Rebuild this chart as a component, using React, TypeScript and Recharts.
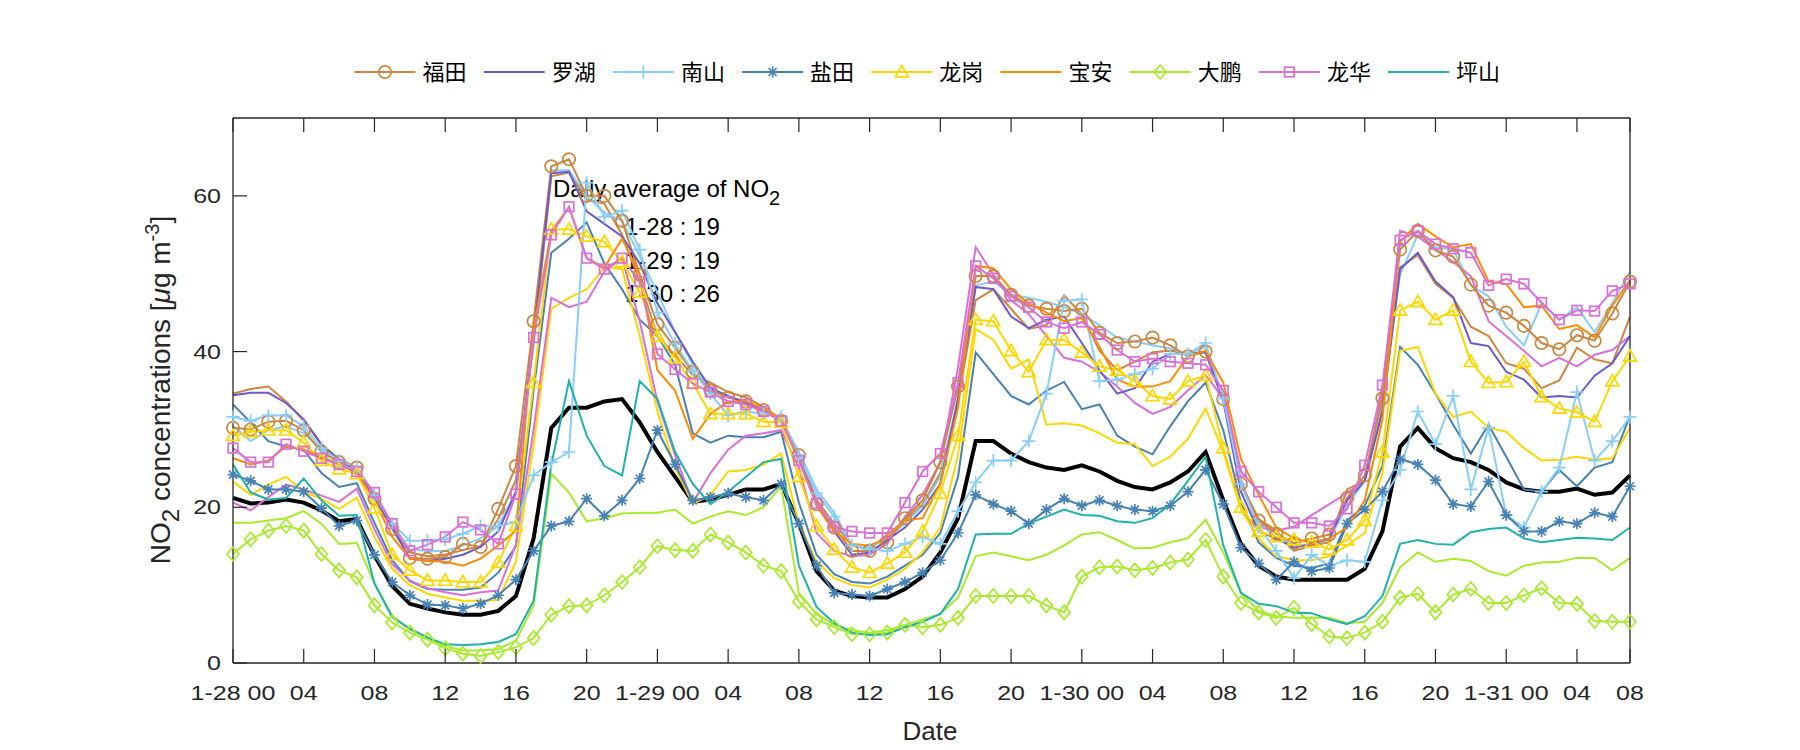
import React from 'react';
import { LineChart, Line, XAxis, YAxis } from 'recharts';

// hourly index from 1-28 00 to 1-31 07
const hours = Array.from({ length: 80 }, (_, i) => i);

const xTicks = [0, 4, 8, 12, 16, 20, 24, 28, 32, 36, 40, 44, 48, 52, 56, 60, 64, 68, 72, 76, 79];
const xTickLabels = ['1-28 00', '04', '08', '12', '16', '20', '1-29 00', '04', '08', '12', '16', '20',
  '1-30 00', '04', '08', '12', '16', '20', '1-31 00', '04', '08'];
const yTicks = [0, 20, 40, 60];

const futian = [30.2, 30.0, 31.0, 31.1, 29.9, 27.1, 25.8, 25.1, 21.1, 17.2,
  13.5, 13.4, 13.6, 15.3, 14.9, 19.8, 25.3, 43.9, 63.8, 64.7,
  60.0, 60.0, 56.8, 49.9, 43.5, 40.5, 37.4, 35.0, 34.1, 33.6,
  32.5, 31.1, 26.7, 20.4, 17.4, 14.4, 14.4, 15.5, 18.6, 20.9,
  25.8, 35.5, 49.7, 49.7, 47.3, 45.9, 45.5, 45.2, 45.5, 42.4,
  41.1, 41.3, 41.8, 40.8, 39.4, 40.0, 33.9, 23.0, 18.3, 16.6,
  15.4, 16.0, 16.5, 21.2, 24.1, 34.0, 53.1, 55.5, 53.0, 52.2,
  48.6, 45.9, 45.0, 43.3, 41.1, 40.3, 42.1, 41.4, 44.9, 49.0];
const futian2 = [34.6, 35.2, 35.5, 33.6, 31.1, 28.1, 26.2, 25.1, 21.6, 17.4,
  14.2, 13.7, 13.9, 14.5, 15.0, 18.5, 23.5, 41.0, 62.5, 63.0,
  59.5, 59.0, 55.0, 49.0, 42.0, 39.5, 37.0, 36.0, 34.8, 34.1,
  32.9, 31.3, 26.9, 20.9, 17.9, 15.1, 14.6, 16.5, 18.3, 20.4,
  24.4, 33.6, 46.6, 48.0, 45.5, 42.9, 43.4, 47.2, 44.8, 40.1,
  37.6, 38.7, 39.9, 40.1, 39.7, 40.0, 34.1, 23.0, 18.5, 17.0,
  14.4, 15.1, 15.5, 22.3, 23.4, 33.0, 50.8, 52.4, 48.7, 46.9,
  43.2, 42.0, 38.5, 37.8, 35.3, 36.3, 40.5, 39.0, 38.5, 44.5];
const luohu = [34.4, 34.7, 34.7, 33.4, 31.3, 28.1, 26.0, 24.8, 21.3, 17.5,
  13.4, 13.1, 13.4, 13.9, 14.9, 16.9, 22.0, 42.0, 62.9, 63.1,
  58.0, 56.4, 54.8, 51.3, 46.2, 42.5, 38.7, 35.3, 34.3, 33.4,
  32.3, 31.3, 26.2, 20.4, 16.9, 13.9, 14.2, 15.8, 17.4, 19.7,
  23.0, 34.0, 48.3, 48.0, 44.5, 43.0, 44.1, 44.5, 41.1, 37.6,
  34.6, 35.3, 38.7, 39.7, 39.7, 39.9, 33.6, 22.0, 16.9, 16.0,
  14.8, 15.3, 16.0, 20.9, 23.4, 32.3, 50.6, 52.7, 49.0, 47.0,
  41.1, 40.7, 37.4, 36.4, 34.1, 34.3, 34.1, 36.9, 38.5, 42.0];
const nanshan = [31.6, 31.1, 31.8, 31.8, 30.4, 27.6, 26.0, 25.1, 21.6, 17.9,
  15.7, 15.7, 15.9, 16.6, 17.6, 17.6, 18.1, 24.1, 25.8, 27.1,
  61.7, 57.3, 58.1, 53.1, 45.0, 41.0, 37.5, 34.6, 31.8, 32.3,
  32.0, 31.6, 26.7, 21.8, 18.8, 15.1, 14.6, 14.4, 15.3, 16.2,
  15.3, 19.5, 23.2, 26.0, 26.0, 28.5, 34.6, 46.5, 46.7, 36.2,
  36.4, 37.1, 37.8, 39.7, 39.7, 41.1, 34.0, 23.0, 17.5, 14.4,
  10.9, 13.9, 12.5, 13.2, 13.0, 20.9, 24.8, 32.3, 28.1, 34.3,
  22.3, 30.2, 19.0, 17.4, 22.0, 25.1, 34.8, 26.0, 28.5, 31.6];
const nanshan2 = [30.4, 28.5, 29.9, 30.4, 29.5, 27.4, 25.8, 24.8, 21.3, 17.4,
  14.6, 14.4, 14.4, 15.1, 16.0, 17.6, 22.0, 42.0, 63.3, 63.3,
  60.0, 57.8, 56.8, 52.2, 47.6, 42.5, 38.3, 34.8, 33.6, 33.2,
  32.3, 31.3, 27.1, 22.3, 19.3, 15.1, 14.8, 16.0, 17.9, 20.2,
  23.9, 34.0, 48.5, 49.0, 47.3, 46.9, 46.4, 45.7, 44.8, 43.4,
  41.8, 41.3, 40.8, 40.4, 39.6, 40.6, 34.1, 23.0, 17.9, 16.2,
  15.1, 15.3, 15.8, 20.2, 23.4, 33.6, 49.9, 55.0, 53.4, 53.1,
  48.5, 47.1, 43.2, 40.8, 46.2, 44.1, 45.7, 42.5, 46.2, 50.3];
const yantian = [24.2, 23.4, 22.3, 22.3, 22.0, 19.9, 17.6, 18.3, 13.9, 10.4,
  8.7, 7.5, 7.4, 7.0, 7.6, 8.7, 10.7, 14.4, 17.6, 18.2,
  21.1, 18.9, 20.9, 23.7, 29.9, 25.5, 20.9, 21.3, 21.8, 21.3,
  20.9, 23.0, 17.9, 12.5, 9.0, 8.8, 8.6, 9.5, 10.4, 11.6,
  13.2, 16.7, 21.6, 20.4, 19.5, 17.9, 19.7, 21.1, 20.2, 20.9,
  20.2, 19.7, 19.5, 20.2, 22.0, 24.8, 20.4, 14.8, 12.8, 10.7,
  13.0, 11.8, 12.2, 17.9, 19.7, 22.0, 26.2, 25.5, 23.5, 20.4,
  20.1, 23.3, 19.0, 16.9, 16.9, 18.2, 17.9, 19.3, 18.8, 22.7];
const yantian2 = [33.2, 30.9, 28.5, 27.8, 27.4, 24.4, 22.6, 23.1, 18.0, 13.2,
  10.5, 9.5, 9.4, 9.4, 9.7, 11.6, 15.0, 35.0, 52.7, 54.5,
  56.6, 51.3, 48.0, 44.1, 42.0, 38.3, 29.5, 28.3, 29.2, 29.0,
  29.0, 29.7, 20.6, 13.9, 11.4, 10.4, 10.2, 11.1, 12.5, 13.9,
  16.7, 23.9, 39.9, 37.1, 34.3, 33.2, 35.0, 36.1, 32.6, 33.2,
  29.2, 27.8, 26.8, 30.4, 33.6, 36.0, 29.9, 20.6, 15.5, 13.5,
  12.5, 12.2, 12.8, 18.3, 20.2, 25.3, 40.6, 38.3, 34.6, 30.6,
  26.9, 30.6, 26.5, 22.3, 22.0, 24.8, 22.7, 25.1, 25.8, 31.8];
const longgang = [29.2, 29.7, 29.9, 29.9, 28.3, 26.0, 24.9, 24.3, 19.9, 13.9,
  11.9, 10.6, 10.6, 10.4, 10.4, 12.9, 17.6, 36.0, 55.7, 55.7,
  54.8, 54.1, 51.5, 47.6, 42.0, 39.2, 35.9, 32.0, 32.0, 32.0,
  31.0, 30.9, 23.9, 17.6, 14.6, 12.3, 11.6, 12.8, 14.2, 16.9,
  21.8, 29.2, 44.1, 43.9, 40.1, 37.4, 41.5, 41.5, 39.9, 38.1,
  37.6, 36.2, 34.3, 33.9, 36.2, 36.9, 27.6, 20.0, 16.9, 16.2,
  15.8, 15.5, 14.6, 15.8, 18.3, 27.1, 45.3, 46.4, 44.1, 45.3,
  38.7, 36.0, 36.1, 38.7, 34.2, 32.7, 32.2, 31.0, 36.2, 39.4];
const longgang2 = [23.3, 21.6, 22.9, 23.9, 22.0, 21.1, 19.8, 21.2, 16.2, 12.1,
  10.0, 8.9, 8.4, 8.0, 8.0, 8.1, 13.0, 28.0, 45.5, 46.9,
  48.0, 50.8, 50.6, 42.0, 32.3, 25.1, 20.4, 21.6, 24.6, 24.8,
  25.5, 26.9, 17.9, 13.0, 10.9, 10.0, 9.7, 10.7, 12.1, 14.2,
  17.4, 26.7, 42.9, 41.5, 37.8, 39.0, 30.6, 30.8, 30.5, 29.5,
  28.3, 28.1, 25.3, 26.5, 28.8, 32.7, 27.1, 19.7, 16.0, 13.7,
  13.2, 13.2, 13.7, 15.1, 16.7, 24.4, 40.1, 40.6, 34.6, 31.6,
  32.3, 30.2, 29.7, 27.6, 26.0, 26.1, 26.5, 26.1, 26.3, 30.2];
const baoan = [26.3, 25.5, 26.0, 27.8, 27.4, 26.5, 25.5, 24.4, 20.9, 16.2,
  13.4, 13.1, 13.0, 12.5, 13.4, 15.1, 17.0, 43.0, 55.5, 58.5,
  52.0, 50.8, 54.5, 49.9, 37.6, 35.0, 28.8, 32.0, 33.6, 33.6,
  32.7, 31.3, 26.2, 20.2, 16.9, 15.3, 15.1, 16.0, 18.3, 18.6,
  23.0, 32.7, 51.0, 50.7, 48.0, 46.2, 45.0, 43.9, 44.3, 40.6,
  36.4, 35.5, 35.5, 36.2, 39.4, 40.1, 36.0, 26.2, 21.6, 17.4,
  16.0, 15.5, 16.0, 17.4, 20.9, 31.3, 54.1, 56.4, 54.8, 53.4,
  53.8, 49.0, 48.7, 45.7, 45.9, 42.9, 43.4, 41.8, 45.9, 49.2];
const dapeng = [14.0, 15.9, 17.0, 17.6, 17.0, 14.0, 11.9, 11.0, 7.4, 5.2,
  3.9, 3.0, 1.9, 1.2, 0.9, 1.4, 2.0, 3.2, 6.2, 7.3,
  7.4, 8.7, 10.4, 12.3, 15.0, 14.5, 14.4, 16.5, 15.5, 14.2,
  12.5, 11.8, 7.9, 5.6, 4.6, 3.7, 3.7, 3.9, 4.9, 4.6,
  4.9, 5.8, 8.6, 8.6, 8.6, 8.6, 7.4, 6.5, 11.1, 12.3,
  12.4, 11.9, 12.2, 12.9, 13.3, 15.8, 11.1, 7.7, 6.5, 5.8,
  7.1, 5.0, 3.4, 3.2, 3.9, 5.3, 8.4, 8.9, 6.5, 8.8,
  9.5, 7.7, 7.7, 8.7, 9.6, 7.7, 7.6, 5.4, 5.3, 5.3];
const dapeng2 = [18.0, 18.0, 18.3, 18.6, 19.5, 17.9, 15.3, 15.4, 10.2, 6.1,
  4.3, 3.2, 2.2, 1.6, 1.6, 1.8, 2.9, 7.4, 24.3, 21.9,
  18.2, 18.6, 19.2, 19.3, 19.3, 19.7, 17.9, 18.8, 19.5, 19.0,
  20.0, 22.7, 9.0, 6.3, 4.9, 4.2, 3.9, 4.2, 4.9, 5.6,
  6.3, 8.4, 13.7, 14.2, 13.7, 13.2, 13.9, 15.1, 16.5, 16.8,
  15.8, 14.7, 14.8, 15.5, 16.0, 18.4, 14.2, 9.0, 6.7, 6.0,
  5.8, 5.8, 5.8, 5.1, 5.3, 7.7, 12.3, 14.2, 13.0, 13.4,
  13.1, 11.8, 11.2, 12.5, 12.9, 13.0, 13.5, 13.5, 11.9, 13.5];
const longhua = [27.6, 25.8, 25.8, 28.1, 27.2, 26.3, 25.5, 24.6, 21.9, 17.9,
  14.4, 15.2, 16.2, 18.1, 17.1, 15.3, 21.7, 41.8, 55.0, 58.6,
  52.0, 50.6, 52.0, 49.0, 39.7, 37.7, 35.9, 34.8, 33.6, 33.2,
  32.3, 31.1, 26.0, 20.5, 17.5, 16.9, 16.7, 16.7, 20.6, 24.6,
  26.9, 36.0, 51.0, 49.4, 47.1, 45.7, 43.8, 43.0, 43.8, 42.2,
  40.2, 38.7, 39.1, 38.7, 38.5, 38.3, 35.0, 24.6, 22.0, 20.0,
  18.0, 18.0, 17.6, 19.8, 25.4, 35.7, 54.3, 55.5, 53.8, 53.2,
  52.7, 48.5, 49.3, 48.7, 46.3, 44.1, 45.3, 45.2, 47.8, 48.7];
const longhua2 = [20.6, 19.6, 21.3, 22.9, 22.3, 21.5, 20.7, 22.4, 17.2, 12.7,
  10.6, 9.6, 9.1, 8.7, 9.1, 9.3, 15.2, 30.0, 46.9, 45.7,
  46.4, 50.3, 52.0, 43.9, 33.6, 26.7, 20.6, 24.4, 27.4, 29.2,
  29.5, 29.9, 25.1, 16.7, 14.4, 13.7, 13.9, 15.3, 18.8, 21.6,
  25.8, 38.0, 53.4, 49.9, 46.6, 44.8, 42.0, 39.2, 38.7, 37.4,
  35.5, 33.4, 32.0, 32.9, 35.0, 37.0, 34.0, 23.5, 17.5, 17.0,
  17.5, 19.0, 20.4, 21.8, 23.5, 35.0, 55.5, 54.8, 53.1, 51.5,
  49.7, 43.9, 42.0, 40.1, 38.1, 39.2, 38.1, 39.6, 40.2, 42.0];
const pingshan = [25.5, 21.9, 21.0, 21.2, 23.7, 20.9, 18.9, 19.0, 10.2, 5.9,
  4.4, 3.3, 2.4, 2.3, 2.4, 2.7, 3.7, 8.0, 25.5, 36.2,
  29.2, 25.3, 24.1, 36.2, 33.9, 27.1, 23.0, 20.4, 22.0, 23.9,
  25.8, 26.2, 12.5, 7.2, 5.1, 3.9, 3.6, 3.7, 4.6, 5.3,
  6.3, 9.5, 16.5, 16.6, 16.6, 17.9, 18.8, 19.7, 19.0, 18.9,
  18.2, 18.0, 18.6, 20.4, 23.4, 26.5, 15.1, 9.0, 7.6, 7.3,
  6.5, 6.4, 5.6, 5.0, 6.0, 8.6, 15.3, 15.8, 15.3, 15.2,
  16.8, 17.2, 17.4, 16.0, 15.5, 15.8, 16.1, 16.0, 15.8, 17.4];
const average = [21.2, 20.5, 20.6, 21.0, 20.6, 19.6, 18.2, 18.5, 13.8, 9.9,
  7.6, 7.0, 6.5, 6.2, 6.2, 6.7, 8.6, 16.0, 30.2, 32.8,
  32.8, 33.6, 33.9, 30.9, 27.1, 23.9, 20.7, 21.0, 21.6, 22.3,
  22.3, 23.0, 17.9, 11.8, 9.3, 8.6, 8.4, 8.4, 9.5, 11.1,
  14.2, 18.6, 28.5, 28.5, 26.9, 25.8, 25.1, 24.8, 25.4, 24.6,
  23.4, 22.6, 22.3, 23.2, 24.6, 27.1, 20.9, 15.3, 12.5, 11.1,
  10.7, 10.7, 10.7, 10.7, 12.1, 16.9, 27.8, 30.2, 27.6, 26.3,
  25.8, 24.8, 23.2, 22.3, 22.0, 22.0, 22.4, 21.6, 21.9, 24.1];

const dailyAvg = [
  { day: '1-28', value: 19 },
  { day: '1-29', value: 19 },
  { day: '1-30', value: 26 },
];

const data = hours.map((h, i) => ({
  h,
  futian: futian[i], futian2: futian2[i], luohu: luohu[i], nanshan: nanshan[i], nanshan2: nanshan2[i],
  yantian: yantian[i], yantian2: yantian2[i], longgang: longgang[i], longgang2: longgang2[i],
  baoan: baoan[i], dapeng: dapeng[i], dapeng2: dapeng2[i], longhua: longhua[i], longhua2: longhua2[i],
  pingshan: pingshan[i], average: average[i],
}));

type Shape = 'circle' | 'plus' | 'star' | 'triangle' | 'diamond' | 'square' | null;

// legend entries, in the order shown
const legendSeries: { key: string; name: string; color: string; marker: Shape }[] = [
  { key: 'futian', name: '福田', color: '#CD853F', marker: 'circle' },
  { key: 'luohu', name: '罗湖', color: '#6A5ACD', marker: null },
  { key: 'nanshan', name: '南山', color: '#87CEFA', marker: 'plus' },
  { key: 'yantian', name: '盐田', color: '#4682B4', marker: 'star' },
  { key: 'longgang', name: '龙岗', color: '#FFD700', marker: 'triangle' },
  { key: 'baoan', name: '宝安', color: '#FF8C00', marker: null },
  { key: 'dapeng', name: '大鹏', color: '#A8EB2C', marker: 'diamond' },
  { key: 'longhua', name: '龙华', color: '#DA70D6', marker: 'square' },
  { key: 'pingshan', name: '坪山', color: '#20B2AA', marker: null },
];

// second station lines, no markers, not in legend
const extraSeries = [
  { key: 'futian2', color: '#CD853F' },
  { key: 'nanshan2', color: '#87CEFA' },
  { key: 'yantian2', color: '#4682B4' },
  { key: 'longgang2', color: '#FFD700' },
  { key: 'dapeng2', color: '#A8EB2C' },
  { key: 'longhua2', color: '#DA70D6' },
];

const AXIS = '#262626';
const TICK_LEN = 14;
const SANS = '"Liberation Sans", Arial, Helvetica, sans-serif';
const CJK = '"Noto Sans CJK SC", "Noto Sans", sans-serif';

// plot box in page pixels
const PLOT = { left: 233, right: 1630, top: 118, bottom: 663 };
const AX_W = 40; // room given to each axis component

function Marker({ cx, cy, shape, color }: { cx: number; cy: number; shape: Shape; color: string }) {
  const sw = 1.7;
  if (cx == null || cy == null) return null;
  switch (shape) {
    case 'circle':
      return <circle cx={cx} cy={cy} r={6.2} fill="none" stroke={color} strokeWidth={sw} />;
    case 'plus':
      return <path d={`M${cx - 6.5},${cy}H${cx + 6.5}M${cx},${cy - 6.5}V${cy + 6.5}`} stroke={color} strokeWidth={sw} fill="none" />;
    case 'star':
      return (
        <path
          d={`M${cx - 5.5},${cy}H${cx + 5.5}M${cx},${cy - 5.5}V${cy + 5.5}M${cx - 4},${cy - 4}L${cx + 4},${cy + 4}M${cx - 4},${cy + 4}L${cx + 4},${cy - 4}`}
          stroke={color} strokeWidth={sw} fill="none"
        />
      );
    case 'triangle':
      return <path d={`M${cx},${cy - 6.5}L${cx + 6.5},${cy + 4.8}L${cx - 6.5},${cy + 4.8}Z`} stroke={color} strokeWidth={sw} fill="none" />;
    case 'diamond':
      return <path d={`M${cx},${cy - 7}L${cx + 6},${cy}L${cx},${cy + 7}L${cx - 6},${cy}Z`} stroke={color} strokeWidth={sw} fill="none" />;
    case 'square':
      return <rect x={cx - 4.8} y={cy - 4.8} width={9.6} height={9.6} stroke={color} strokeWidth={sw} fill="none" />;
    default:
      return null;
  }
}

const BottomTick = (props: any) => {
  const { x, payload } = props;
  const y = PLOT.bottom;
  const label = xTickLabels[xTicks.indexOf(payload.value)];
  return (
    <g>
      <line x1={x} x2={x} y1={y} y2={y - TICK_LEN} stroke={AXIS} strokeWidth={1.2} />
      <text transform={`translate(${x},${y + 37}) scale(1.25,1)`} textAnchor="middle" fontSize={20} fontFamily={SANS} fill={AXIS}>
        {label}
      </text>
    </g>
  );
};

const TopTick = (props: any) => {
  const { x } = props;
  const y = PLOT.top;
  return <line x1={x} x2={x} y1={y} y2={y + TICK_LEN} stroke={AXIS} strokeWidth={1.2} />;
};

const LeftTick = (props: any) => {
  const { y, payload } = props;
  const x = PLOT.left;
  return (
    <g>
      <line x1={x} x2={x + TICK_LEN} y1={y} y2={y} stroke={AXIS} strokeWidth={1.2} />
      <text transform={`translate(${x - 12},${y + 7}) scale(1.25,1)`} textAnchor="end" fontSize={20} fontFamily={SANS} fill={AXIS}>
        {payload.value}
      </text>
    </g>
  );
};

const RightTick = (props: any) => {
  const { y } = props;
  const x = PLOT.right;
  return <line x1={x} x2={x - TICK_LEN} y1={y} y2={y} stroke={AXIS} strokeWidth={1.2} />;
};

const dotFor = (key: string, shape: Shape, color: string) =>
  shape ? (p: any) => <Marker key={`${key}-${p.index}`} cx={p.cx} cy={p.cy} shape={shape} color={color} /> : false;

export default function App() {
  const axisLine = { stroke: AXIS, strokeWidth: 1.3 };
  const legendLeft = 354.5;
  const legendStep = 129.2;
  const layer = { position: 'absolute' as const, left: 0, top: 0, pointerEvents: 'none' as const };
  return (
    <div style={{ position: 'absolute', left: 0, top: 0, width: 1800, height: 750, background: '#fff' }}>
      {/* annotation sits under the lines, as in the original */}
      <svg width={1800} height={750} style={layer}>
        <text x={553} y={197} fontSize={24} fontFamily={SANS} fill="#000">
          Daily average of NO<tspan dy={8} fontSize={20}>2</tspan>
        </text>
        {dailyAvg.map((d, i) => (
          <text key={d.day} x={625} y={235 + i * 33.5} fontSize={24} fontFamily={SANS} fill="#000">
            {`${d.day} : ${d.value}`}
          </text>
        ))}
      </svg>

      <LineChart
        width={1800}
        height={750}
        data={data}
        margin={{
          top: PLOT.top - AX_W,
          right: 1800 - PLOT.right - AX_W,
          bottom: 750 - PLOT.bottom - AX_W,
          left: PLOT.left - AX_W,
        }}
      >
        <XAxis dataKey="h" type="number" domain={[0, 79]} ticks={xTicks} interval={0} height={AX_W}
          tickSize={0} tickMargin={0} axisLine={axisLine} tick={BottomTick} />
        <XAxis xAxisId="top" orientation="top" dataKey="h" type="number" domain={[0, 79]} ticks={xTicks} interval={0}
          height={AX_W} tickSize={0} tickMargin={0} axisLine={axisLine} tick={TopTick} />
        <YAxis type="number" domain={[0, 70]} ticks={yTicks} interval={0} width={AX_W}
          tickSize={0} tickMargin={0} axisLine={axisLine} tick={LeftTick} />
        <YAxis yAxisId="right" orientation="right" type="number" domain={[0, 70]} ticks={yTicks} interval={0} width={AX_W}
          tickSize={0} tickMargin={0} axisLine={axisLine} tick={RightTick} />

        <Line type="linear" dataKey="average" stroke="#000" strokeWidth={4} dot={false} activeDot={false} isAnimationActive={false} />
        {extraSeries.map((s) => (
          <Line key={s.key} type="linear" dataKey={s.key} stroke={s.color} strokeWidth={2}
            dot={false} activeDot={false} isAnimationActive={false} />
        ))}
        {legendSeries.map((s) => (
          <Line key={s.key} type="linear" dataKey={s.key} name={s.name} stroke={s.color} strokeWidth={2}
            dot={dotFor(s.key, s.marker, s.color)} activeDot={false} isAnimationActive={false} />
        ))}
      </LineChart>

      <svg width={1800} height={750} style={layer}>
        {/* legend */}
        {legendSeries.map((s, i) => {
          const x0 = legendLeft + i * legendStep;
          return (
            <g key={s.key}>
              <line x1={x0} x2={x0 + 61} y1={72} y2={72} stroke={s.color} strokeWidth={2} />
              <Marker cx={x0 + 30.5} cy={72} shape={s.marker} color={s.color} />
              <text x={x0 + 68} y={80} fontSize={22} fontFamily={CJK} fill="#000">{s.name}</text>
            </g>
          );
        })}

        {/* axis labels */}
        <text x={930} y={740} textAnchor="middle" fontSize={26} fontFamily={SANS} fill={AXIS}>Date</text>
        <text transform="translate(170,390) rotate(-90)" textAnchor="middle" fontSize={28} fontFamily={SANS} fill={AXIS}>
          NO<tspan dy={9} fontSize={24}>2</tspan>
          <tspan dy={-9}> concentrations [</tspan>
          <tspan fontStyle="italic">μ</tspan>g m<tspan dy={-11} fontSize={20}>-3</tspan>
          <tspan dy={11}>]</tspan>
        </text>
      </svg>
    </div>
  );
}
